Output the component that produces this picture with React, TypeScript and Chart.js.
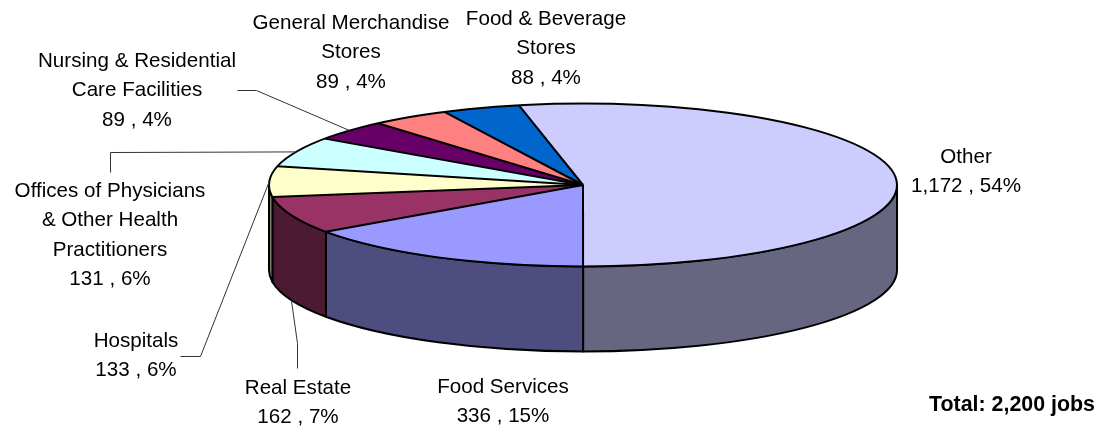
import { useEffect, useRef } from "react";
import { Chart, registerables } from "chart.js";

Chart.register(...registerables);

const categories = [
  "Other",
  "Food Services",
  "Real Estate",
  "Hospitals",
  "Offices of Physicians & Other Health Practitioners",
  "Nursing & Residential Care Facilities",
  "General Merchandise Stores",
  "Food & Beverage Stores",
];
const jobs = [1172, 336, 162, 133, 131, 89, 89, 88];
const percents = [54, 15, 7, 6, 6, 4, 4, 4];
const topColors = ["#CCCCFF", "#9999FF", "#993366", "#FFFFCC", "#CCFFFF", "#660066", "#FF8080", "#0066CC"];
const sideColors = ["#666680", "#4D4D80", "#4D1A33", "#808066", "#668080", "#330033", "#804040", "#003366"];
const nameLines = [
  ["Other"],
  ["Food Services"],
  ["Real Estate"],
  ["Hospitals"],
  ["Offices of Physicians", "& Other Health", "Practitioners"],
  ["Nursing & Residential", "Care Facilities"],
  ["General Merchandise", "Stores"],
  ["Food & Beverage", "Stores"],
];
const totalLabel = "Total: 2,200 jobs";

// layout only
const W = 1099;
const H = 426;
const SQUASH = 81.5 / 314;
const DEPTH = 85;
const LINE_H = 29.3;
const FONT = '20.6px "Liberation Sans", Arial, sans-serif';
const BOLD = 'bold 21.4px "Liberation Sans", Arial, sans-serif';
const labelPos: [number, number][] = [
  [966, 163],
  [503, 393],
  [298, 394],
  [136, 347],
  [110, 197],
  [137, 67],
  [351, 29],
  [546, 25],
];
// index of slice -> elbow points running from the label to the rim
const leaders: Record<number, { pts: [number, number][]; onFloor?: boolean }> = {
  2: { pts: [[297, 368], [297, 343]], onFloor: true },
  3: { pts: [[180, 356], [200, 356]] },
  4: { pts: [[110, 172], [110, 152]] },
  5: { pts: [[237, 90], [256, 90]] },
};

const pie3d = {
  id: "pie3d",
  beforeDatasetsDraw(chart: any) {
    const ctx = chart.ctx;
    const arcs = chart.getDatasetMeta(0).data;
    const { x, y, outerRadius: r } = arcs[0];
    const ry = r * SQUASH;
    ctx.save();
    ctx.lineWidth = 2;
    ctx.strokeStyle = "#000";
    ctx.lineJoin = "round";
    arcs.forEach((arc: any, i: number) => {
      const TAU = Math.PI * 2;
      for (const k of [-1, 0, 1]) {
        const a = Math.max(arc.startAngle, k * TAU);
        const b = Math.min(arc.endAngle, k * TAU + Math.PI);
        if (b <= a) continue;
        ctx.beginPath();
        ctx.ellipse(x, y, r, ry, 0, a, b);
        ctx.lineTo(x + r * Math.cos(b), y + DEPTH + ry * Math.sin(b));
        ctx.ellipse(x, y + DEPTH, r, ry, 0, b, a, true);
        ctx.closePath();
        ctx.fillStyle = sideColors[i];
        ctx.fill();
        ctx.stroke();
      }
    });
    ctx.restore();
    ctx.save();
    ctx.translate(x, y);
    ctx.scale(1, SQUASH);
    ctx.translate(-x, -y);
  },
  afterDatasetsDraw(chart: any) {
    const ctx = chart.ctx;
    ctx.restore();
    const arcs = chart.getDatasetMeta(0).data;
    const { x, y, outerRadius: r } = arcs[0];
    const ry = r * SQUASH;
    ctx.save();
    ctx.strokeStyle = "#000";
    ctx.lineWidth = 2;
    arcs.forEach((arc: any) => {
      ctx.beginPath();
      ctx.moveTo(x, y);
      ctx.lineTo(x + r * Math.cos(arc.startAngle), y + ry * Math.sin(arc.startAngle));
      ctx.stroke();
    });
    ctx.beginPath();
    ctx.ellipse(x, y, r, ry, 0, 0, Math.PI * 2);
    ctx.stroke();

    // leader lines
    ctx.strokeStyle = "#333";
    ctx.lineWidth = 1;
    Object.entries(leaders).forEach(([key, l]) => {
      const arc = arcs[Number(key)];
      const mid = (arc.startAngle + arc.endAngle) / 2;
      ctx.beginPath();
      l.pts.forEach(([px, py], j) => (j ? ctx.lineTo(px + 0.5, py + 0.5) : ctx.moveTo(px + 0.5, py + 0.5)));
      ctx.lineTo(x + r * Math.cos(mid), y + ry * Math.sin(mid) + (l.onFloor ? DEPTH : 0));
      ctx.stroke();
    });

    // labels
    ctx.fillStyle = "#000";
    ctx.textAlign = "center";
    ctx.textBaseline = "alphabetic";
    ctx.font = FONT;
    categories.forEach((_, i) => {
      const lines = [...nameLines[i], `${jobs[i].toLocaleString("en-US")} , ${percents[i]}%`];
      lines.forEach((t, j) => ctx.fillText(t, labelPos[i][0], labelPos[i][1] + j * LINE_H));
    });
    ctx.font = BOLD;
    ctx.textAlign = "right";
    ctx.fillText(totalLabel, 1095, 411);
    ctx.restore();
  },
};

export default function App() {
  const ref = useRef<HTMLCanvasElement>(null);
  useEffect(() => {
    document.body.style.margin = "0";
    const chart = new Chart(ref.current!, {
      type: "pie",
      data: {
        labels: categories,
        datasets: [
          {
            data: jobs,
            backgroundColor: topColors,
            borderWidth: 0,
            clip: false,
          } as any,
        ],
      },
      options: {
        animation: false,
        responsive: false,
        radius: 314,
        rotation: -11.8,
        layout: { padding: { left: 67, bottom: 56 } },
        plugins: { legend: { display: false }, tooltip: { enabled: false } },
      } as any,
      plugins: [pie3d],
    });
    return () => chart.destroy();
  }, []);
  return (
    <canvas
      ref={ref}
      width={W}
      height={H}
      style={{ display: "block", position: "absolute", left: 0, top: 0, background: "#fff" }}
    />
  );
}
